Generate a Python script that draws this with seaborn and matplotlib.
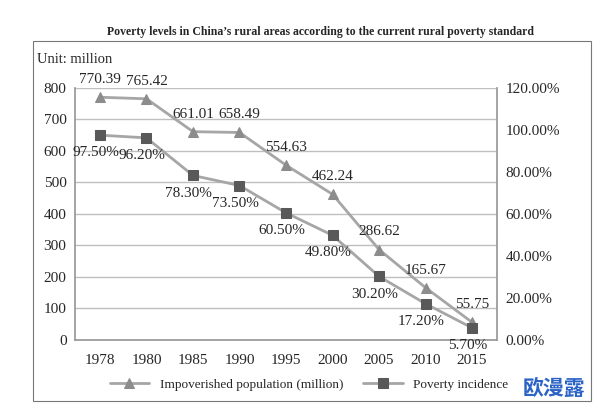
import seaborn as sns
import matplotlib.pyplot as plt
import pandas as pd
import numpy as np
from matplotlib.patches import Rectangle
from matplotlib.ticker import FuncFormatter

years = ["1978", "1980", "1985", "1990", "1995", "2000", "2005", "2010", "2015"]
population = [770.39, 765.42, 661.01, 658.49, 554.63, 462.24, 286.62, 165.67, 55.75]
incidence = [97.5, 96.2, 78.3, 73.5, 60.5, 49.8, 30.2, 17.2, 5.7]

df = pd.DataFrame({"x": np.arange(len(years)), "pop": population, "inc": incidence})

sns.set_theme(style="white")
plt.rcParams["font.family"] = ["Liberation Serif", "DejaVu Serif"]

fig = plt.figure(figsize=(5.94, 4.07), dpi=100)
ax = fig.add_axes([0.126, 0.165, 0.711, 0.619])
ax2 = ax.twinx()

lc = "#a6a6a6"
sns.lineplot(data=df, x="x", y="pop", ax=ax, color=lc, lw=2, marker="^", markersize=7,
             markerfacecolor="#8c8c8c", markeredgecolor="#8c8c8c", label="Impoverished population (million)", legend=False)
sns.lineplot(data=df, x="x", y="inc", ax=ax2, color=lc, lw=2, marker="s", markersize=7,
             markerfacecolor="#595959", markeredgecolor="#595959", label="Poverty incidence", legend=False)

ax.set_ylim(0, 800)
ax.set_yticks(range(0, 801, 100))
ax2.set_ylim(0, 120)
ax2.set_yticks(range(0, 121, 20))
ax2.yaxis.set_major_formatter(FuncFormatter(lambda v, p: f"{v:.2f}%"))
ax.set_xlim(-0.54, 8.54)
ax.set_xticks(df["x"])
ax.set_xticklabels(years)
ax.set_xlabel("")
ax.set_ylabel("")
ax2.set_ylabel("")
ax.yaxis.grid(True, color="#bfbfbf", lw=1)
for a in (ax, ax2):
    a.tick_params(labelsize=11, length=0, pad=6)
    for s in a.spines.values():
        s.set_visible(False)
ax.spines["left"].set_visible(True)
ax.spines["left"].set_color("#999999")
ax.spines["bottom"].set_visible(True)
ax.spines["bottom"].set_color("#999999")
ax2.spines["right"].set_visible(True)
ax2.spines["right"].set_color("#999999")
ax.tick_params(axis="x", length=4, color="#999999", direction="out")

for i, v in enumerate(population):
    ax.annotate(f"{v:.2f}", (i, v), xytext=(0, 8), textcoords="offset points",
                ha="center", va="bottom", fontsize=11)
for i, v in enumerate(incidence):
    ax2.annotate(f"{v:.2f}%", (i, v), xytext=(-3, -8), textcoords="offset points",
                 ha="center", va="top", fontsize=11)

h1, l1 = ax.get_legend_handles_labels()
h2, l2 = ax2.get_legend_handles_labels()
fig.legend(h1 + h2, l1 + l2, loc="center", bbox_to_anchor=(0.52, 0.055), ncol=2,
           frameon=False, fontsize=9.5, handlelength=3, columnspacing=1.5)

fig.text(0.54, 0.922, "Poverty levels in China’s rural areas according to the current rural poverty standard",
         ha="center", va="center", fontsize=8.5, fontweight="bold")
fig.text(0.062, 0.855, "Unit: million", fontsize=10.5, va="center")
fig.patches.append(Rectangle((0.055, 0.015), 0.94, 0.885, transform=fig.transFigure,
                             fill=False, edgecolor="#777777", lw=0.8))
fig.text(0.985, 0.045, "欧漫露", ha="right", va="center", fontsize=15, fontweight="bold",
         color="#2b63c6", family=["Noto Sans CJK SC", "DejaVu Sans"])

fig.savefig("out.png", dpi=100)
